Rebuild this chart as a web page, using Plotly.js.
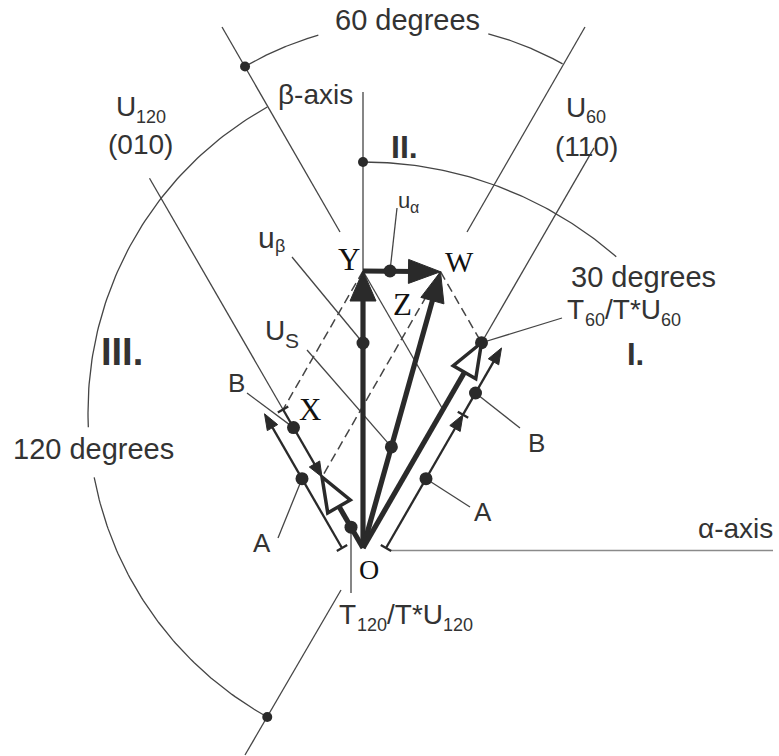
<!DOCTYPE html>
<html><head><meta charset="utf-8">
<script src="https://cdn.plot.ly/plotly-3.0.1.min.js"></script>
<style>html,body{margin:0;padding:0;background:#fff}</style>
</head><body><div id="chart" style="width:779px;height:756px"></div>
<script>
// ---------------- data (pixel units, origin O, alpha to the right, beta up) ----------------
const sectorDeg = [60, 120];            // directions of U60 (110) and U120 (010)
const uBeta = 277;                      // |u_beta|  (O -> Y)
const t60 = 237;                        // T60/T*U60 length
const t120 = 82;                        // T120/T*U120 length
const startOffset = [23, -21];          // A/B helper lines start on the alpha axis (right, left)
const rightAB = [154, 77];              // right helper: A, B lengths
const leftA = 155;                      // left helper: A length
const dotAlong = {beta: 205, alpha: 27, us: 0.366, rightB: 179, rightA: 80, leftA: 80, leftB: 139, p120: 24};
const arc30 = {c: [0, 0], r: 386, spans: [[90, 49]]};
const arc60 = {c: [43, 205], r: 320, spans: [[120.2, 105.9], [75.1, 60.7]]};
const arc120 = {c: [74, 136], r: 349, spans: [[119.1, 182.5], [190.8, 240.9]]};
const axisLines = {beta: [[0, 456], [0, uBeta]], alpha: [[27, -2.5], [410, -2.5]]};
const u120Len = 427, u60Len = 462;      // thin U120 / U60 axis lines
const line120 = [[-141, 521], [-23, 316]];
const line60 = [[222, 521], [104, 316]];
const line240 = [[-22, -42], [-118, -207]];
const leaderStarts = {ua: [34, 340], ub: [-71, 291], us: [-56, 198], t60: [199, 230], bR: [157, 120], aR: [107, 41], aL: [-85, 10], bL: [-116, 155], t120: -45};

// ---------------- geometry ----------------
const rad = Math.PI / 180;
const dir = a => [Math.cos(a * rad), Math.sin(a * rad)];
const mul = (v, s) => [v[0] * s, v[1] * s];
const add = (a, b) => [a[0] + b[0], a[1] + b[1]];
const sub = (a, b) => [a[0] - b[0], a[1] - b[1]];
const unit = v => { const l = Math.hypot(v[0], v[1]); return [v[0] / l, v[1] / l]; };
const lerp = (a, b, t) => [a[0] + (b[0] - a[0]) * t, a[1] + (b[1] - a[1]) * t];

const d60 = dir(sectorDeg[0]), d120 = dir(sectorDeg[1]);
const O = [0, 0], Y = [0, uBeta];
const P60 = mul(d60, t60), P120 = mul(d120, t120), W = add(P60, P120);
const half = uBeta / (2 * Math.sin(60 * rad));
const X = mul(d120, half), Xr = mul(d60, half);
const SR = [startOffset[0], 0], SL = [startOffset[1], 0];
const tickR = add(SR, mul(d60, rightAB[0])), endR = add(SR, mul(d60, rightAB[0] + rightAB[1]));
const endL = add(SL, mul(d120, leftA));

function arcPts(a) {
  const xs = [], ys = [];
  a.spans.forEach(s => {
    const n = 80;
    for (let i = 0; i <= n; i++) {
      const t = (s[0] + (s[1] - s[0]) * i / n) * rad;
      xs.push(a.c[0] + a.r * Math.cos(t)); ys.push(a.c[1] + a.r * Math.sin(t));
    }
    xs.push(null); ys.push(null);
  });
  return [xs, ys];
}
function arcPoint(a, ang) { return [a.c[0] + a.r * Math.cos(ang * rad), a.c[1] + a.r * Math.sin(ang * rad)]; }
function segTrace(segs, width, color, dash) {
  const x = [], y = [];
  segs.forEach(s => { x.push(s[0][0], s[1][0], null); y.push(s[0][1], s[1][1], null); });
  return {type: 'scatter', mode: 'lines', x, y, line: {width, color, dash: dash || 'solid'}, hoverinfo: 'skip'};
}
function headPath(tip, from, len, hw) {
  const u = unit(sub(tip, from)), p = [-u[1], u[0]];
  const b = sub(tip, mul(u, len));
  const a1 = add(b, mul(p, hw)), a2 = sub(b, mul(p, hw));
  return `M ${tip[0]},${tip[1]} L ${a1[0]},${a1[1]} L ${a2[0]},${a2[1]} Z`;
}
function shorten(from, tip, len) { return sub(tip, mul(unit(sub(tip, from)), len)); }
function tick(pt, d, len) { const p = [-d[1], d[0]]; return [add(pt, mul(p, len / 2)), sub(pt, mul(p, len / 2))]; }

const ink = '#2a2a2a', thinInk = '#454545';

// dots
const dots = [
  [0, dotAlong.beta], [dotAlong.alpha, uBeta], lerp(O, W, dotAlong.us), P60,
  add(SR, mul(d60, dotAlong.rightB)), add(SR, mul(d60, dotAlong.rightA)),
  add(SL, mul(d120, dotAlong.leftA)), mul(d120, dotAlong.leftB), mul(d120, dotAlong.p120)
];
const arcDots = [arcPoint(arc30, 90), arcPoint(arc60, arc60.spans[0][0]), arcPoint(arc120, arc120.spans[1][1])];

const thinSegs = [
  axisLines.beta, [mul(d120, u120Len), X], [mul(d60, u60Len), P60],
  line120, line60, line240, [Y, Xr],
  [leaderStarts.ua, dots[1]], [leaderStarts.ub, dots[0]], [leaderStarts.us, dots[2]],
  [leaderStarts.t60, P60], [leaderStarts.bR, dots[4]], [leaderStarts.aR, dots[5]],
  [leaderStarts.aL, dots[6]], [leaderStarts.bL, dots[7]],
  [dots[8], [dots[8][0], leaderStarts.t120]]
];
const dashSegs = [[Y, X], [W, P60], [W, P120]];
const medSegs = [
  [SR, shorten(SR, tickR, 10)], [tickR, shorten(tickR, endR, 10)],
  [SL, shorten(SL, endL, 10)], [X, shorten(X, P120, 8)],
  tick(SR, d60, 12), tick(tickR, d60, 12), tick(SL, d120, 12), tick(X, d120, 12)
];
const thickSegs = [
  [O, shorten(O, Y, 22)], [O, shorten(O, W, 22)], [Y, shorten(Y, W, 24)],
  [O, shorten(O, P60, 32)], [O, shorten(O, P120, 32)]
];

const traces = [];
[arc30, arc60, arc120].forEach(a => {
  const [x, y] = arcPts(a);
  traces.push({type: 'scatter', mode: 'lines', x, y, line: {width: 1.3, color: thinInk}, hoverinfo: 'skip'});
});
traces.push(segTrace([axisLines.alpha], 1.6, '#8a8a8a'));
traces.push(segTrace(thinSegs, 1.3, thinInk));
traces.push(segTrace(dashSegs, 1.5, thinInk, '9px,5px'));
traces.push(segTrace(medSegs, 2.3, ink));
traces.push(segTrace(thickSegs, 5.2, ink));
traces.push({type: 'scatter', mode: 'markers', x: dots.map(d => d[0]), y: dots.map(d => d[1]),
  marker: {size: 13, color: ink}, hoverinfo: 'skip'});
traces.push({type: 'scatter', mode: 'markers', x: arcDots.map(d => d[0]), y: arcDots.map(d => d[1]),
  marker: {size: 10, color: ink}, hoverinfo: 'skip'});

const shapes = [];
const filled = (path) => shapes.push({type: 'path', path, fillcolor: ink, line: {color: ink, width: 1}, layer: 'above'});
const hollow = (path) => shapes.push({type: 'path', path, fillcolor: '#fff', line: {color: ink, width: 3.5}, layer: 'above'});
filled(headPath(Y, O, 30, 13));
filled(headPath(W, O, 30, 12));
filled(headPath(W, Y, 32, 12));
hollow(headPath(P60, O, 34, 13));
hollow(headPath(P120, O, 34, 13));
filled(headPath(tickR, SR, 16, 6));
filled(headPath(endR, tickR, 16, 6));
filled(headPath(endL, SL, 16, 6));
filled(headPath(P120, X, 15, 6));

// ---------------- texts ----------------
const sansName = 'Liberation Sans';
const sans = 'Liberation Sans, Arial, Helvetica, sans-serif';
const serif = 'Liberation Serif, Times New Roman, serif';
const annotations = [];
function ann(text, x, y, size, opt) {
  opt = opt || {};
  annotations.push({text, x, y, xref: 'x', yref: 'y', showarrow: false,
    xanchor: opt.xa || 'center', yanchor: 'middle', borderpad: 0, borderwidth: 0,
    font: {family: opt.family || sans, size, color: opt.color || '#333', weight: opt.weight || 'normal'}});
}
const ctx = document.createElement('canvas').getContext('2d');
function textW(t, size) { ctx.font = `${size}px "${sansName}"`; return ctx.measureText(t).width; }
// parts: [text, isSubscript]
function rich(parts, cx, cy, size, subSize, drop) {
  const widths = parts.map(p => textW(p[0], p[1] ? subSize : size));
  const total = widths.reduce((a, b) => a + b, 0);
  let x = cx - total / 2;
  parts.forEach((p, i) => {
    ann(p[0], x, p[1] ? cy - drop : cy, p[1] ? subSize : size, {xa: 'left'});
    x += widths[i];
  });
}
ann('60 degrees', 44, 528, 29);
ann('β-axis', -48, 454, 28);
rich([['U', 0], ['120', 1]], -222, 442, 28, 18, 11);
ann('(010)', -223, 404, 28);
rich([['U', 0], ['60', 1]], 223, 441, 28, 18, 10);
ann('(110)', 223, 402, 28);
ann('<b>II.</b>', 41, 401, 32);
rich([['u', 0], ['α', 1]], 46, 348, 22, 16, 7);
rich([['u', 0], ['β', 1]], -91, 311, 30, 18, 9);
ann('Y', -14, 289, 31, {family: serif, color: '#111'});
ann('W', 96, 287, 30, {family: serif, color: '#111'});
ann('Z', 39, 244, 31, {family: serif, color: '#111'});
ann('X', -53, 139, 31, {family: serif, color: '#111'});
rich([['U', 0], ['S', 1]], -81, 218, 28, 21, 10);
ann('30 degrees', 280, 271, 29);
rich([['T', 0], ['60', 1], ['/T*U', 0], ['60', 1]], 261, 239, 28, 18, 11);
ann('<b>I.</b>', 272, 194, 31);
ann('B', 173, 105, 26);
ann('A', 120, 36, 26);
ann('α-axis', 372, 20, 28);
ann('O', 6, -21, 28, {family: serif, color: '#111'});
rich([['T', 0], ['120', 1], ['/T*U', 0], ['120', 1]], 43, -66, 28, 18, 11);
ann('A', -101, 5, 26);
ann('B', -127, 165, 26);
ann('<b>III.</b>', -241, 196, 38);
ann('120 degrees', -270, 99, 29);

const layout = {
  width: 779, height: 756, margin: {l: 0, r: 0, t: 0, b: 0, pad: 0},
  paper_bgcolor: '#fff', plot_bgcolor: '#fff', showlegend: false,
  xaxis: {range: [-363, 416], visible: false, showgrid: false, zeroline: false},
  yaxis: {range: [-208, 548], visible: false, showgrid: false, zeroline: false},
  shapes, annotations
};
Plotly.newPlot('chart', traces, layout, {staticPlot: true, displayModeBar: false});
</script></body></html>
